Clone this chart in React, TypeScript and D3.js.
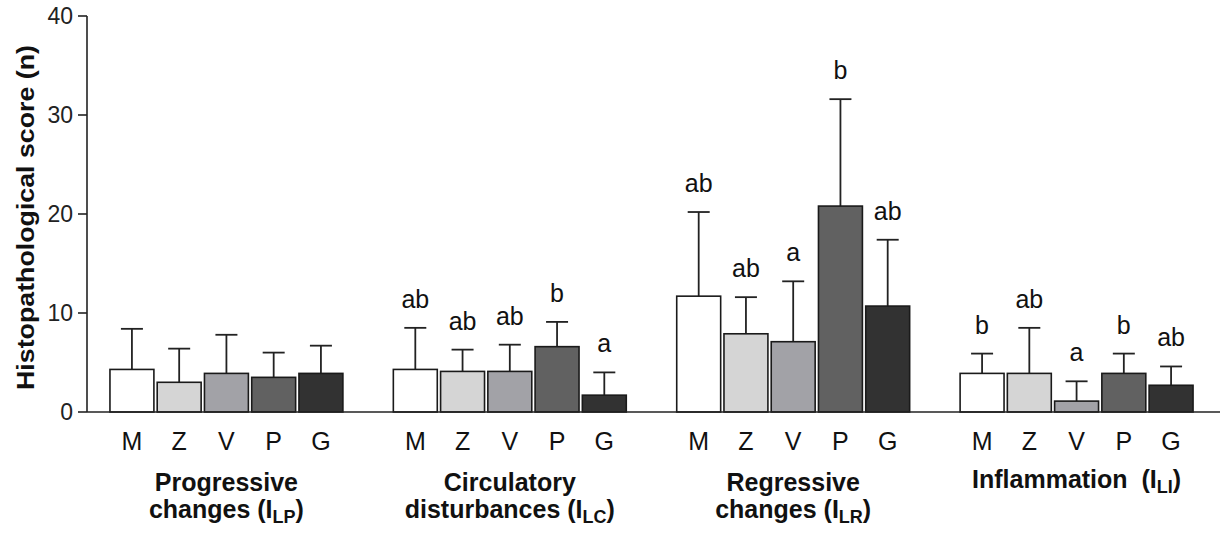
import React from 'react';
import * as d3 from 'd3';

// --- data ---
const groups = ['Progressive', 'Circulatory', 'Regressive', 'Inflammation'];
const groupLine1 = ['Progressive', 'Circulatory', 'Regressive', 'Inflammation  (I'];
const groupLine2 = ['changes (I', 'disturbances (I', 'changes (I', ''];
const groupSub = ['LP', 'LC', 'LR', 'LI'];
const treatments = ['M', 'Z', 'V', 'P', 'G'];
const means = [
  [4.3, 3.0, 3.9, 3.5, 3.9],
  [4.3, 4.1, 4.1, 6.6, 1.7],
  [11.7, 7.9, 7.1, 20.8, 10.7],
  [3.9, 3.9, 1.1, 3.9, 2.7],
];
const errors = [
  [4.1, 3.4, 3.9, 2.5, 2.8],
  [4.2, 2.2, 2.7, 2.5, 2.3],
  [8.5, 3.7, 6.1, 10.8, 6.7],
  [2.0, 4.6, 2.0, 2.0, 1.9],
];
const letters = [
  ['', '', '', '', ''],
  ['ab', 'ab', 'ab', 'b', 'a'],
  ['ab', 'ab', 'a', 'b', 'ab'],
  ['b', 'ab', 'a', 'b', 'ab'],
];
const yTicks = [0, 10, 20, 30, 40];

const fills: Record<string, string> = { M: '#ffffff', Z: '#d5d5d5', V: '#a2a2a7', P: '#616161', G: '#323232' };
const font = '"Liberation Sans", Arial, sans-serif';

const App = () => {
  const width = 1221, height = 534;
  const axisX = 87, baseY = 412;

  const y = d3.scaleLinear().domain([0, 40]).range([baseY, 16]);
  const x0 = d3.scaleBand<string>().domain(groups).range([axisX, 1216]).paddingInner(0.178).paddingOuter(0.081);
  const x1 = d3.scaleBand<string>().domain(treatments).range([0, x0.bandwidth()]).paddingInner(0.07);
  const capW = 22;

  return (
    <svg width={width} height={height} style={{ display: 'block', background: '#fff', fontFamily: font }}>
      <style>{`body{margin:0}`}</style>

      {/* y axis */}
      <line x1={axisX} x2={axisX} y1={y(0)} y2={y(40)} stroke="#222" strokeWidth={1.6} />
      {yTicks.map(t => (
        <g key={t}>
          <line x1={axisX - 9} x2={axisX} y1={y(t)} y2={y(t)} stroke="#222" strokeWidth={1.6} />
          <text x={axisX - 14} y={y(t)} dy="0.36em" textAnchor="end" fontSize={23} fill="#222">{t}</text>
        </g>
      ))}
      <text transform={`translate(34,${(45 + 390) / 2}) rotate(-90)`} textAnchor="middle" fontSize={24}
        fontWeight="bold" fill="#111" textLength={345} lengthAdjust="spacingAndGlyphs">
        Histopathological score (n)
      </text>

      {/* bars */}
      {groups.map((g, gi) => {
        const gx = x0(g)!;
        return (
          <g key={g}>
            {treatments.map((t, ti) => {
              const bx = gx + x1(t)!;
              const cx = bx + x1.bandwidth() / 2;
              const m = means[gi][ti];
              const top = y(m + errors[gi][ti]);
              return (
                <g key={t}>
                  <line x1={cx} x2={cx} y1={y(m)} y2={top} stroke="#222" strokeWidth={1.8} />
                  <line x1={cx - capW / 2} x2={cx + capW / 2} y1={top} y2={top} stroke="#222" strokeWidth={1.8} />
                  <rect x={bx} y={y(m)} width={x1.bandwidth()} height={y(0) - y(m)} fill={fills[t]}
                    stroke="#1a1a1a" strokeWidth={1.6} />
                  {letters[gi][ti] && (
                    <text x={cx} y={top - 20} textAnchor="middle" fontSize={25} fill="#111">{letters[gi][ti]}</text>
                  )}
                  <text x={cx} y={450} textAnchor="middle" fontSize={25} fill="#111">{t}</text>
                </g>
              );
            })}
            <text x={gx + x0.bandwidth() / 2} y={gi === 3 ? 488 : 491} textAnchor="middle" fontSize={25}
              fontWeight="bold" fill="#111" style={{ whiteSpace: 'pre' }}>
              {groupLine1[gi]}
              {gi === 3 && (<><tspan fontSize={18} dy={5}>{groupSub[gi]}</tspan><tspan dy={-5}>)</tspan></>)}
            </text>
            {groupLine2[gi] && (
              <text x={gx + x0.bandwidth() / 2} y={518} textAnchor="middle" fontSize={25} fontWeight="bold" fill="#111">
                {groupLine2[gi]}
                <tspan fontSize={18} dy={5}>{groupSub[gi]}</tspan>
                <tspan dy={-5}>)</tspan>
              </text>
            )}
          </g>
        );
      })}

      {/* x baseline */}
      <line x1={axisX} x2={1220} y1={baseY} y2={baseY} stroke="#222" strokeWidth={1.6} />
    </svg>
  );
};

export default App;
